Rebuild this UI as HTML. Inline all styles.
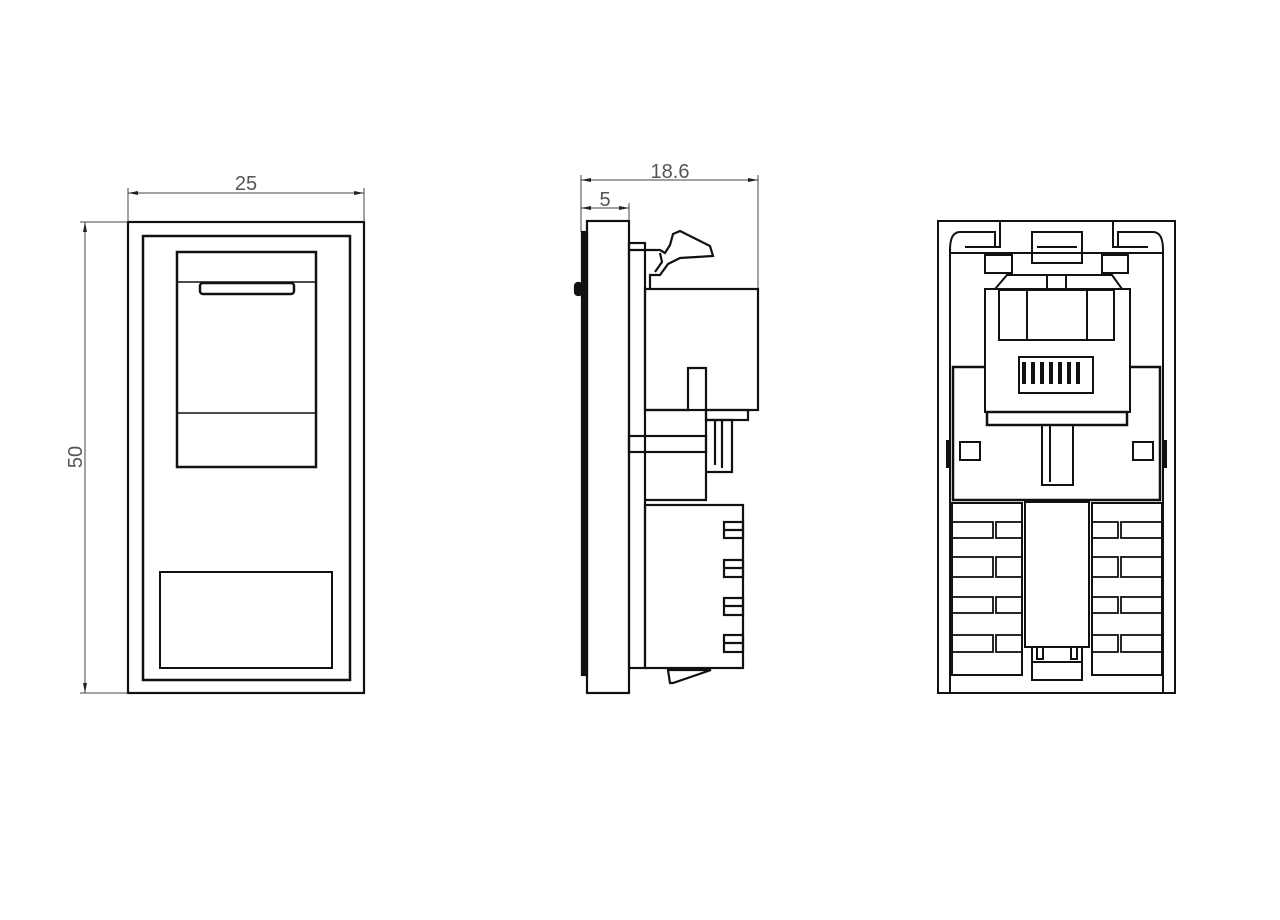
<!DOCTYPE html>
<html><head><meta charset="utf-8"><style>html,body{margin:0;padding:0;background:#fff}svg{display:block}</style></head>
<body>
<svg width="1280" height="920" viewBox="0 0 1280 920" xmlns="http://www.w3.org/2000/svg">
<rect width="1280" height="920" fill="#fff"/>
<g fill="none" stroke="#111" stroke-width="2.2">
<!-- LEFT VIEW -->
<rect x="128" y="222" width="236" height="471"/>
<rect x="143" y="236" width="207" height="444" stroke-width="2.5"/>
<rect x="177" y="252" width="139" height="215" stroke-width="2.5"/>
<line x1="177" y1="282" x2="316" y2="282" stroke-width="1.5"/>
<rect x="200" y="283" width="94" height="11" rx="3" stroke-width="2.5"/>
<line x1="177" y1="413" x2="316" y2="413" stroke-width="1.5"/>
<rect x="160" y="572" width="172" height="96" stroke-width="2"/>
</g>
<g stroke="#444" stroke-width="1" fill="none">
<line x1="128" y1="193" x2="364" y2="193"/>
<line x1="128" y1="188" x2="128" y2="222"/>
<line x1="364" y1="188" x2="364" y2="222"/>
<line x1="85" y1="222" x2="85" y2="693"/>
<line x1="80" y1="222" x2="128" y2="222"/>
<line x1="80" y1="693" x2="128" y2="693"/>
<line x1="581" y1="180" x2="758" y2="180"/>
<line x1="581" y1="175" x2="581" y2="232"/>
<line x1="758" y1="175" x2="758" y2="289"/>
<line x1="581" y1="208" x2="629" y2="208"/>
<line x1="629" y1="203" x2="629" y2="221"/>
</g>
<g fill="#222">
<polygon points="128,193 138,191 138,195"/><polygon points="364,193 354,191 354,195"/>
<polygon points="85,222 83,232 87,232"/><polygon points="85,693 83,683 87,683"/>
<polygon points="581,180 591,178 591,182"/><polygon points="758,180 748,178 748,182"/>
<polygon points="581,208 591,206 591,210"/><polygon points="629,208 619,206 619,210"/>
</g>
<g font-family="Liberation Sans, sans-serif" font-size="20" fill="#555" text-anchor="middle">
<text x="246" y="190" transform="scale(1,1)">25</text>
<text x="670" y="178">18.6</text>
<text x="605" y="206">5</text>
<text x="0" y="0" transform="translate(82,457) rotate(-90)">50</text>
</g>
<!-- MIDDLE VIEW -->
<g fill="none" stroke="#111" stroke-width="2.2">
<rect x="582" y="232" width="5" height="443" fill="#111"/>
<rect x="575" y="283" width="7" height="12" rx="3" fill="#111"/>
<rect x="587" y="221" width="42" height="472"/>
<rect x="629" y="243" width="16" height="425"/>
<path d="M629,250 L660,250 L665,253 L670,245 L673,234 L680,231 L710,246 L713,256 L680,258 L668,264 L660,275 L650,275 L650,289"/>
<path d="M660,253 L662,262 L655,272"/>
<rect x="645" y="289" width="113" height="121"/>
<path d="M645,410 L688,410 L688,368 L706,368 L706,500 L645,500"/>
<rect x="706" y="410" width="42" height="10"/>
<path d="M706,420 L732,420 L732,472 L706,472"/>
<line x1="715" y1="420" x2="715" y2="465"/>
<line x1="722" y1="420" x2="722" y2="468"/>
<rect x="629" y="436" width="77" height="16"/>
<rect x="645" y="505" width="98" height="163"/>
<rect x="724" y="522" width="19" height="16"/><line x1="724" y1="530" x2="743" y2="530"/>
<rect x="724" y="560" width="19" height="17"/><line x1="724" y1="568" x2="743" y2="568"/>
<rect x="724" y="598" width="19" height="17"/><line x1="724" y1="606" x2="743" y2="606"/>
<rect x="724" y="635" width="19" height="17"/><line x1="724" y1="643" x2="743" y2="643"/>
<path d="M668,670 L711,670 L673,683 L670,683 Z"/>
</g>
<!-- RIGHT VIEW -->
<g fill="none" stroke="#111" stroke-width="2">
<rect x="938" y="221" width="237" height="472"/>
<path d="M950,693 L950,250 Q950,232 960,232 L995,232 L995,247 L1000,247 L1000,222"/>
<path d="M1163,693 L1163,250 Q1163,232 1153,232 L1118,232 L1118,247 L1113,247 L1113,222"/>
<path d="M965,247 L1000,247 M1113,247 L1148,247"/>
<line x1="950" y1="253" x2="1163" y2="253"/>
<rect x="1032" y="232" width="50" height="31"/>
<line x1="1037" y1="247" x2="1077" y2="247"/>
<rect x="985" y="255" width="27" height="18"/>
<rect x="1102" y="255" width="26" height="18"/>
<path d="M995,289 L1007,275 L1112,275 L1122,289"/>
<line x1="1047" y1="275" x2="1047" y2="289"/><line x1="1066" y1="275" x2="1066" y2="289"/>
<rect x="985" y="289" width="145" height="123"/>
<rect x="999" y="290" width="115" height="50"/>
<line x1="1027" y1="290" x2="1027" y2="340"/><line x1="1087" y1="290" x2="1087" y2="340"/>
<rect x="1019" y="357" width="74" height="36"/>
<path d="M985,367 L953,367 L953,500 L1160,500 L1160,367 L1130,367" stroke-width="2.5"/>
<rect x="987" y="412" width="140" height="13" stroke-width="2.5"/>
<rect x="960" y="442" width="20" height="18"/>
<rect x="1133" y="442" width="20" height="18"/>
<rect x="1042" y="425" width="31" height="60"/>
<line x1="1050" y1="425" x2="1050" y2="482"/>
<rect x="952" y="503" width="70" height="172"/>
<rect x="1092" y="503" width="70" height="172"/>
<rect x="1025" y="502" width="64" height="145"/>
<rect x="1032" y="647" width="50" height="33"/>
<rect x="1037" y="647" width="6" height="12"/><rect x="1071" y="647" width="6" height="12"/>
<line x1="1032" y1="662" x2="1082" y2="662"/>
</g>
<g fill="none" stroke="#111" stroke-width="1.8">
<rect x="952" y="522" width="41" height="16"/><rect x="996" y="522" width="26" height="16"/>
<rect x="952" y="557" width="41" height="20"/><rect x="996" y="557" width="26" height="20"/>
<rect x="952" y="597" width="41" height="16"/><rect x="996" y="597" width="26" height="16"/>
<rect x="952" y="635" width="41" height="17"/><rect x="996" y="635" width="26" height="17"/>
<rect x="1092" y="522" width="26" height="16"/><rect x="1121" y="522" width="41" height="16"/>
<rect x="1092" y="557" width="26" height="20"/><rect x="1121" y="557" width="41" height="20"/>
<rect x="1092" y="597" width="26" height="16"/><rect x="1121" y="597" width="41" height="16"/>
<rect x="1092" y="635" width="26" height="17"/><rect x="1121" y="635" width="41" height="17"/>
</g>
<g fill="#111">
<rect x="1022" y="362" width="4" height="22"/><rect x="1031" y="362" width="4" height="22"/>
<rect x="1040" y="362" width="4" height="22"/><rect x="1049" y="362" width="4" height="22"/>
<rect x="1058" y="362" width="4" height="22"/><rect x="1067" y="362" width="4" height="22"/>
<rect x="1076" y="362" width="4" height="22"/>
<rect x="946" y="440" width="4" height="28"/><rect x="1163" y="440" width="4" height="28"/>
</g>
</svg>
</body></html>
